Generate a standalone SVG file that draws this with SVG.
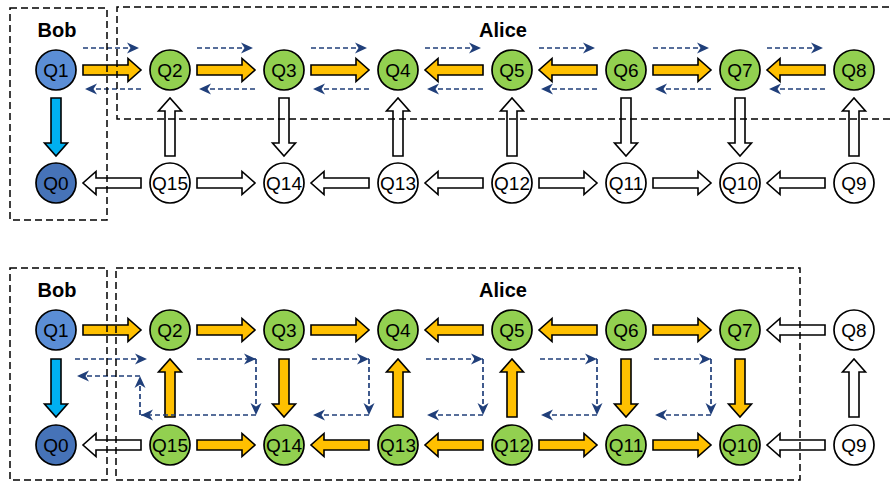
<svg xmlns="http://www.w3.org/2000/svg" xmlns:xlink="http://www.w3.org/1999/xlink" width="893" height="482" viewBox="0 0 893 482">
  <style>
    .node circle { stroke: #000; stroke-width: 1.7; }
    .q1 circle { fill: #5B8ED6; }
    .q0 circle { fill: #4673B8; }
    .on circle { fill: #92D050; }
    .off circle { fill: #FFFFFF; }
    .node text { font-family: "Liberation Sans", Arial, sans-serif; font-size: 19px; fill: #000; text-anchor: middle; }
    .party { font-family: "Liberation Sans", Arial, sans-serif; font-size: 20px; font-weight: bold; fill: #000; text-anchor: middle; }
    .zone { fill: none; stroke: #000; stroke-width: 1.5; stroke-dasharray: 7 4; }
    .blk { stroke: #000; stroke-width: 1.6; stroke-linejoin: miter; }
    .org { fill: #FFC000; }
    .cyan { fill: #00B0F0; }
    .wht { fill: #FFFFFF; }
    .flow { fill: none; stroke: #203F7A; stroke-width: 1.7; stroke-dasharray: 5 3; marker-end: url(#tip); }
  </style>
  <defs>
    <!-- block arrow, 58 px long, pointing +x from the origin -->
    <path id="ar" d="M0,-5 H45 V-11.5 L58,0 L45,11.5 V5 H0 Z"/>
    <marker id="tip" markerUnits="userSpaceOnUse" markerWidth="13" markerHeight="12" refX="12" refY="6" orient="auto" viewBox="0 0 13 12">
      <path d="M0,0.5 L12,6 L0,11.5 L3.5,6 Z" fill="#203F7A"/>
    </marker>
  </defs>

  <!-- ===================== upper panel ===================== -->
  <g id="connectors-upper">
    <!-- top row -->
    <use xlink:href="#ar" class="blk org" transform="translate(83,70)"/>
    <use xlink:href="#ar" class="blk org" transform="translate(197,70)"/>
    <use xlink:href="#ar" class="blk org" transform="translate(311,70)"/>
    <use xlink:href="#ar" class="blk org" transform="translate(483,70) rotate(180)"/>
    <use xlink:href="#ar" class="blk org" transform="translate(597,70) rotate(180)"/>
    <use xlink:href="#ar" class="blk org" transform="translate(653,70)"/>
    <use xlink:href="#ar" class="blk org" transform="translate(825,70) rotate(180)"/>
    <!-- bottom row -->
    <use xlink:href="#ar" class="blk wht" transform="translate(141,183) rotate(180)"/>
    <use xlink:href="#ar" class="blk wht" transform="translate(197,183)"/>
    <use xlink:href="#ar" class="blk wht" transform="translate(369,183) rotate(180)"/>
    <use xlink:href="#ar" class="blk wht" transform="translate(483,183) rotate(180)"/>
    <use xlink:href="#ar" class="blk wht" transform="translate(539,183)"/>
    <use xlink:href="#ar" class="blk wht" transform="translate(653,183)"/>
    <use xlink:href="#ar" class="blk wht" transform="translate(825,183) rotate(180)"/>
    <!-- columns -->
    <use xlink:href="#ar" class="blk cyan" transform="translate(56,98) rotate(90)"/>
    <use xlink:href="#ar" class="blk wht" transform="translate(170,156) rotate(-90)"/>
    <use xlink:href="#ar" class="blk wht" transform="translate(284,98) rotate(90)"/>
    <use xlink:href="#ar" class="blk wht" transform="translate(398,156) rotate(-90)"/>
    <use xlink:href="#ar" class="blk wht" transform="translate(512,156) rotate(-90)"/>
    <use xlink:href="#ar" class="blk wht" transform="translate(626,98) rotate(90)"/>
    <use xlink:href="#ar" class="blk wht" transform="translate(740,98) rotate(90)"/>
    <use xlink:href="#ar" class="blk wht" transform="translate(854,156) rotate(-90)"/>
    <!-- two-way exchange along the top row -->
    <path class="flow" d="M83,48 H139"/><path class="flow" d="M141,89 H85"/>
    <path class="flow" d="M197,48 H253"/><path class="flow" d="M255,89 H199"/>
    <path class="flow" d="M311,48 H367"/><path class="flow" d="M369,89 H313"/>
    <path class="flow" d="M425,48 H481"/><path class="flow" d="M483,89 H427"/>
    <path class="flow" d="M539,48 H595"/><path class="flow" d="M597,89 H541"/>
    <path class="flow" d="M653,48 H709"/><path class="flow" d="M711,89 H655"/>
    <path class="flow" d="M767,48 H823"/><path class="flow" d="M825,89 H769"/>
  </g>

  <g id="upper-q1" class="node q1"><circle cx="56" cy="70" r="20"/><text x="56" y="76.8">Q1</text></g>
  <g id="upper-q2" class="node on"><circle cx="170" cy="70" r="20"/><text x="170" y="76.8">Q2</text></g>
  <g id="upper-q3" class="node on"><circle cx="284" cy="70" r="20"/><text x="284" y="76.8">Q3</text></g>
  <g id="upper-q4" class="node on"><circle cx="398" cy="70" r="20"/><text x="398" y="76.8">Q4</text></g>
  <g id="upper-q5" class="node on"><circle cx="512" cy="70" r="20"/><text x="512" y="76.8">Q5</text></g>
  <g id="upper-q6" class="node on"><circle cx="626" cy="70" r="20"/><text x="626" y="76.8">Q6</text></g>
  <g id="upper-q7" class="node on"><circle cx="740" cy="70" r="20"/><text x="740" y="76.8">Q7</text></g>
  <g id="upper-q8" class="node on"><circle cx="854" cy="70" r="20"/><text x="854" y="76.8">Q8</text></g>
  <g id="upper-q0" class="node q0"><circle cx="56" cy="183" r="20"/><text x="56" y="189.8">Q0</text></g>
  <g id="upper-q15" class="node off"><circle cx="170" cy="183" r="20"/><text x="170" y="189.8">Q15</text></g>
  <g id="upper-q14" class="node off"><circle cx="284" cy="183" r="20"/><text x="284" y="189.8">Q14</text></g>
  <g id="upper-q13" class="node off"><circle cx="398" cy="183" r="20"/><text x="398" y="189.8">Q13</text></g>
  <g id="upper-q12" class="node off"><circle cx="512" cy="183" r="20"/><text x="512" y="189.8">Q12</text></g>
  <g id="upper-q11" class="node off"><circle cx="626" cy="183" r="20"/><text x="626" y="189.8">Q11</text></g>
  <g id="upper-q10" class="node off"><circle cx="740" cy="183" r="20"/><text x="740" y="189.8">Q10</text></g>
  <g id="upper-q9" class="node off"><circle cx="854" cy="183" r="20"/><text x="854" y="189.8">Q9</text></g>

  <g id="zones-upper">
    <rect class="zone" x="10" y="8" width="97" height="212"/>
    <path class="zone" d="M900,7 H117 V119 H900"/>
    <text class="party" x="57" y="37">Bob</text>
    <text class="party" x="503" y="37">Alice</text>
  </g>

  <!-- ===================== lower panel ===================== -->
  <g id="connectors-lower">
    <!-- top row -->
    <use xlink:href="#ar" class="blk org" transform="translate(83,330)"/>
    <use xlink:href="#ar" class="blk org" transform="translate(197,330)"/>
    <use xlink:href="#ar" class="blk org" transform="translate(311,330)"/>
    <use xlink:href="#ar" class="blk org" transform="translate(483,330) rotate(180)"/>
    <use xlink:href="#ar" class="blk org" transform="translate(597,330) rotate(180)"/>
    <use xlink:href="#ar" class="blk org" transform="translate(653,330)"/>
    <use xlink:href="#ar" class="blk wht" transform="translate(825,330) rotate(180)"/>
    <!-- bottom row -->
    <use xlink:href="#ar" class="blk wht" transform="translate(141,445) rotate(180)"/>
    <use xlink:href="#ar" class="blk org" transform="translate(197,445)"/>
    <use xlink:href="#ar" class="blk org" transform="translate(369,445) rotate(180)"/>
    <use xlink:href="#ar" class="blk org" transform="translate(483,445) rotate(180)"/>
    <use xlink:href="#ar" class="blk org" transform="translate(539,445)"/>
    <use xlink:href="#ar" class="blk org" transform="translate(653,445)"/>
    <use xlink:href="#ar" class="blk wht" transform="translate(825,445) rotate(180)"/>
    <!-- columns -->
    <use xlink:href="#ar" class="blk cyan" transform="translate(56,359) rotate(90)"/>
    <use xlink:href="#ar" class="blk org" transform="translate(170,417) rotate(-90)"/>
    <use xlink:href="#ar" class="blk org" transform="translate(284,359) rotate(90)"/>
    <use xlink:href="#ar" class="blk org" transform="translate(398,417) rotate(-90)"/>
    <use xlink:href="#ar" class="blk org" transform="translate(512,417) rotate(-90)"/>
    <use xlink:href="#ar" class="blk org" transform="translate(626,359) rotate(90)"/>
    <use xlink:href="#ar" class="blk org" transform="translate(740,359) rotate(90)"/>
    <use xlink:href="#ar" class="blk wht" transform="translate(854,417) rotate(-90)"/>
    <!-- dashed loops between the rows -->
    <path class="flow" d="M75,359 H147"/>
    <path class="flow" d="M197,359 H256"/>
    <path class="flow" d="M256,359 V415"/>
    <path class="flow" d="M256,415 H141"/>
    <path class="flow" d="M140,415 V376"/>
    <path class="flow" d="M140,376 H77"/>
    <path class="flow" d="M312,359 H369"/><path class="flow" d="M369,359 V415"/><path class="flow" d="M369,415 H313"/>
    <path class="flow" d="M426,359 H483"/><path class="flow" d="M483,359 V415"/><path class="flow" d="M483,415 H427"/>
    <path class="flow" d="M540,359 H597"/><path class="flow" d="M597,359 V415"/><path class="flow" d="M597,415 H541"/>
    <path class="flow" d="M654,359 H711"/><path class="flow" d="M711,359 V415"/><path class="flow" d="M711,415 H655"/>
  </g>

  <g id="lower-q1" class="node q1"><circle cx="56" cy="330" r="20"/><text x="56" y="336.8">Q1</text></g>
  <g id="lower-q2" class="node on"><circle cx="170" cy="330" r="20"/><text x="170" y="336.8">Q2</text></g>
  <g id="lower-q3" class="node on"><circle cx="284" cy="330" r="20"/><text x="284" y="336.8">Q3</text></g>
  <g id="lower-q4" class="node on"><circle cx="398" cy="330" r="20"/><text x="398" y="336.8">Q4</text></g>
  <g id="lower-q5" class="node on"><circle cx="512" cy="330" r="20"/><text x="512" y="336.8">Q5</text></g>
  <g id="lower-q6" class="node on"><circle cx="626" cy="330" r="20"/><text x="626" y="336.8">Q6</text></g>
  <g id="lower-q7" class="node on"><circle cx="740" cy="330" r="20"/><text x="740" y="336.8">Q7</text></g>
  <g id="lower-q8" class="node off"><circle cx="854" cy="330" r="20"/><text x="854" y="336.8">Q8</text></g>
  <g id="lower-q0" class="node q0"><circle cx="56" cy="445" r="20"/><text x="56" y="451.8">Q0</text></g>
  <g id="lower-q15" class="node on"><circle cx="170" cy="445" r="20"/><text x="170" y="451.8">Q15</text></g>
  <g id="lower-q14" class="node on"><circle cx="284" cy="445" r="20"/><text x="284" y="451.8">Q14</text></g>
  <g id="lower-q13" class="node on"><circle cx="398" cy="445" r="20"/><text x="398" y="451.8">Q13</text></g>
  <g id="lower-q12" class="node on"><circle cx="512" cy="445" r="20"/><text x="512" y="451.8">Q12</text></g>
  <g id="lower-q11" class="node on"><circle cx="626" cy="445" r="20"/><text x="626" y="451.8">Q11</text></g>
  <g id="lower-q10" class="node on"><circle cx="740" cy="445" r="20"/><text x="740" y="451.8">Q10</text></g>
  <g id="lower-q9" class="node off"><circle cx="854" cy="445" r="20"/><text x="854" y="451.8">Q9</text></g>

  <g id="zones-lower">
    <rect class="zone" x="10" y="268" width="97" height="212"/>
    <rect class="zone" x="116" y="268" width="684" height="212"/>
    <text class="party" x="57" y="297">Bob</text>
    <text class="party" x="503" y="297">Alice</text>
  </g>
</svg>
